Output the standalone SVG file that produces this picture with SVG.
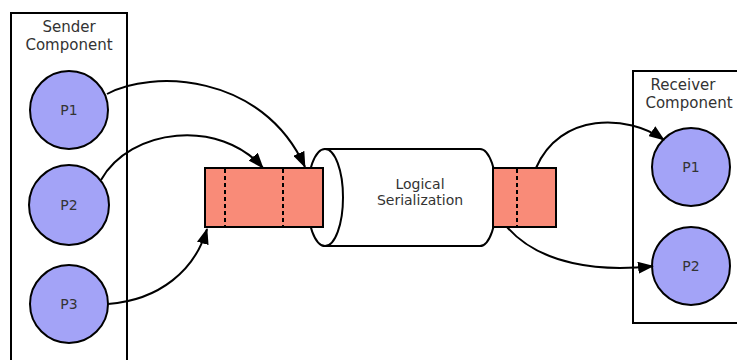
<svg xmlns="http://www.w3.org/2000/svg" width="737" height="360" viewBox="0 0 737 360">
<style>
.box{fill:#fff;stroke:#000;stroke-width:2}
.proc{fill:#a3a3f7;stroke:#000;stroke-width:2}
.q{fill:#f98b78;stroke:#000;stroke-width:2}
.dash{stroke:#000;stroke-width:2;stroke-dasharray:4 3}
.cyl{fill:#fff;stroke:#000;stroke-width:2}
.conn{fill:none;stroke:#000;stroke-width:2;marker-end:url(#ah)}
text{font-family:"DejaVu Sans","Liberation Sans",sans-serif;fill:#333;text-anchor:middle}
.lbl{font-size:15px}
.pl{font-size:14px}
</style>
<defs>
<marker id="ah" viewBox="0 0 16 12" refX="15" refY="6" markerWidth="16" markerHeight="12" markerUnits="userSpaceOnUse" orient="auto">
<path d="M0,0 L16,6 L0,12 Z" fill="#000"/>
</marker>
</defs>
<g id="sender">
<rect class="box" x="11" y="13" width="116" height="360"/>
<text class="lbl" x="69" y="32">Sender</text>
<text class="lbl" x="69" y="50">Component</text>
</g>
<g id="sp1"><circle class="proc" cx="69" cy="110" r="39"/><text class="pl" x="69" y="115">P1</text></g>
<g id="sp2"><circle class="proc" cx="69" cy="205" r="40"/><text class="pl" x="69" y="210">P2</text></g>
<g id="sp3"><circle class="proc" cx="69" cy="304" r="39"/><text class="pl" x="69" y="309">P3</text></g>
<g id="receiver">
<rect class="box" x="633" y="71" width="120" height="252"/>
<text class="lbl" x="683" y="90">Receiver</text>
<text class="lbl" x="689" y="108">Component</text>
</g>
<g id="rp1"><circle class="proc" cx="691" cy="167" r="39"/><text class="pl" x="691" y="172">P1</text></g>
<g id="rp2"><circle class="proc" cx="691" cy="266" r="39"/><text class="pl" x="691" y="271">P2</text></g>
<g id="channel">
<path class="cyl" d="M325,149 L480,149 A17,48.5 0 0 1 480,246 L325,246 Z"/>
<ellipse class="cyl" cx="325" cy="197.5" rx="18" ry="48.5"/>
<text class="pl" x="420" y="189">Logical</text>
<text class="pl" x="420" y="205">Serialization</text>
</g>
<g id="sendq">
<rect class="q" x="205" y="168" width="118" height="59"/>
<line class="dash" x1="225" y1="169" x2="225" y2="226"/>
<line class="dash" x1="283" y1="169" x2="283" y2="226"/>
</g>
<g id="recvq">
<rect class="q" x="493" y="168" width="63" height="59"/>
<line class="dash" x1="517" y1="169" x2="517" y2="226"/>
</g>
<g id="connectors">
<path class="conn" d="M107,94 C150,70 262,72 305,167"/>
<path class="conn" d="M101,180 C130,128 220,118 263,168"/>
<path class="conn" d="M108,304 C160,300 195,270 207,229"/>
<path class="conn" d="M536,168 C560,112 628,114 664,140"/>
<path class="conn" d="M507,227 C540,265 600,272 653,266"/>
</g>
</svg>
